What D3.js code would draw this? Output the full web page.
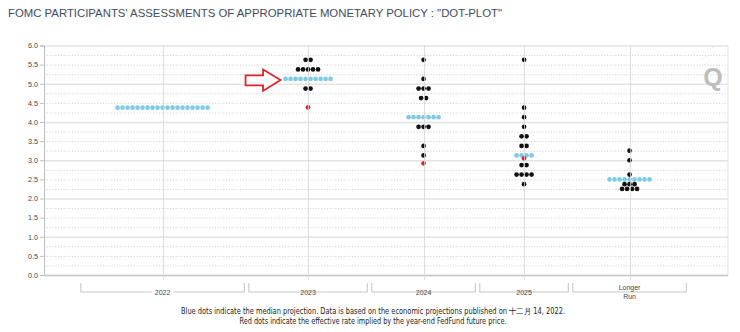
<!DOCTYPE html>
<html><head><meta charset="utf-8">
<script src="https://cdn.jsdelivr.net/npm/d3@7/dist/d3.min.js"></script>
<style>body{margin:0;background:#fff}svg{display:block}</style>
</head><body><svg id="c" width="740" height="332"></svg>
<script>
// ---------- data ----------
const titleText = "FOMC PARTICIPANTS' ASSESSMENTS OF APPROPRIATE MONETARY POLICY : \"DOT-PLOT\"";
const categories = ["2022", "2023", "2024", "2025", "Longer Run"];
const rates2022 = [4.375];
const counts2022 = [19];
const rates2023 = [5.625, 5.375, 5.125, 4.875];
const counts2023 = [2, 5, 10, 2];
const rates2024 = [5.625, 5.125, 4.875, 4.625, 4.125, 3.875, 3.375, 3.125];
const counts2024 = [1, 1, 3, 2, 7, 3, 1, 1];
const rates2025 = [5.625, 4.375, 4.125, 3.875, 3.625, 3.375, 3.125, 2.875, 2.625, 2.375];
const counts2025 = [1, 1, 1, 1, 2, 2, 4, 2, 4, 1];
const ratesLR = [3.25, 3.0, 2.625, 2.5, 2.375, 2.25];
const countsLR = [1, 1, 1, 9, 3, 4];
const medians = [4.375, 5.125, 4.125, 3.125, 2.5];
const futuresRates = [null, 4.38, 2.92, 3.05, null];
const yTickValues = [0, 0.5, 1, 1.5, 2, 2.5, 3, 3.5, 4, 4.5, 5, 5.5, 6];
const footerLines = [
  "Blue dots indicate the median projection. Data is based on the economic projections published on 十二月 14, 2022.",
  "Red dots indicate the effective rate implied by the year-end FedFund future price."
];

const rateSets = [rates2022, rates2023, rates2024, rates2025, ratesLR];
const countSets = [counts2022, counts2023, counts2024, counts2025, countsLR];

// ---------- layout ----------
const plot = {left: 44, right: 728, top: 45.5, bottom: 275};
const svg = d3.select("#c");
const font = "'Liberation Sans', Arial, sans-serif";

const y = d3.scaleLinear().domain([0, 6]).range([plot.bottom, plot.top]);

// category bands in "dot slot" units
const padUnits = 14.7, gapUnits = 0.9;
let cursor = 0;
const bands = categories.map((c, i) => {
  const w = d3.max(countSets[i]) - 1 + padUnits;
  const b = {name: c, start: cursor, end: cursor + w, center: cursor + w / 2};
  cursor += w + gapUnits;
  return b;
});
const totalUnits = cursor - gapUnits;
const x = d3.scaleLinear().domain([0, totalUnits]).range([80.8, 686.3]);

// ---------- title ----------
svg.append("text").attr("x", 8).attr("y", 17)
  .attr("font-family", font).attr("font-size", 11.2).attr("fill", "#3f4b63")
  .attr("textLength", 494).attr("lengthAdjust", "spacingAndGlyphs")
  .text(titleText);

// ---------- grid ----------
const g = svg.append("g");
const quarter = d3.range(0, 25).map(i => i * 0.25);
g.selectAll("line.grid").data(quarter).enter().append("line")
  .attr("x1", plot.left).attr("x2", plot.right)
  .attr("y1", d => y(d) + 0.5).attr("y2", d => y(d) + 0.5)
  .attr("stroke", d => (d % 1 === 0) ? "#e3e3e3" : "#c9c9c9")
  .attr("stroke-width", d => (d % 1 === 0) ? 1.5 : 0.8)
  .attr("stroke-dasharray", d => (d % 1 === 0) ? null : "1.2,1.6");

// right border
g.append("line").attr("x1", plot.right).attr("x2", plot.right)
  .attr("y1", plot.top).attr("y2", plot.bottom).attr("stroke", "#e2e2e2");

// logo
const logo = svg.append("g");
logo.append("text").attr("x", 713).attr("y", 86).attr("text-anchor", "middle")
  .attr("font-family", font).attr("font-weight", "bold").attr("font-size", 25)
  .attr("fill", "#bdbdbd").text("Q");
[[703, 52, 716, 46], [700, 60, 712, 54], [702, 66, 709, 62]].forEach(l =>
  logo.append("line").attr("x1", l[0]).attr("y1", l[1]).attr("x2", l[2]).attr("y2", l[3])
    .attr("stroke", "#bfe6ee").attr("stroke-width", 0.8).attr("stroke-dasharray", "1,1.5"));

// ---------- y axis ----------
const yAxis = d3.axisLeft(y).tickValues(yTickValues).tickFormat(d3.format(".1f"))
  .tickSize(4).tickPadding(2);
const ya = svg.append("g").attr("transform", `translate(${plot.left},0)`).call(yAxis);
ya.select(".domain").attr("stroke", "#bdbdbd");
ya.selectAll(".tick line").attr("stroke", "#bdbdbd");
ya.selectAll("text").attr("font-family", font).attr("font-size", 7.2).attr("fill", "#444");

// x axis base line
svg.append("line").attr("x1", plot.left).attr("x2", plot.right)
  .attr("y1", plot.bottom + 0.5).attr("y2", plot.bottom + 0.5)
  .attr("stroke", "#c8c8c8").attr("stroke-width", 1.5);

// ---------- dots ----------
const dotR = 2.35;
const dots = [];
rateSets.forEach((rates, i) => {
  rates.forEach((r, k) => {
    const n = countSets[i][k];
    for (let j = 0; j < n; j++) {
      dots.push({cat: i, rate: r, slot: bands[i].center + j - (n - 1) / 2,
        median: r === medians[i]});
    }
  });
});
svg.append("g").selectAll("circle").data(dots).enter().append("circle")
  .attr("cx", d => x(d.slot)).attr("cy", d => y(d.rate)).attr("r", dotR)
  .attr("fill", d => d.median ? "#7fcbe6" : "#111");

svg.append("g").selectAll("circle").data(futuresRates.map((v, i) => ({v, i})).filter(d => d.v !== null))
  .enter().append("circle")
  .attr("cx", d => x(bands[d.i].center)).attr("cy", d => y(d.v)).attr("r", dotR)
  .attr("fill", "#e3232b");

// vertical center lines (drawn over dots, faint)
svg.append("g").selectAll("line").data(bands).enter().append("line")
  .attr("x1", d => Math.round(x(d.center)) + 0.5).attr("x2", d => Math.round(x(d.center)) + 0.5)
  .attr("y1", plot.top).attr("y2", plot.bottom + 5)
  .attr("stroke", "#d6d6d6").attr("stroke-width", 0.8);

// ---------- category brackets ----------
const bt = 283, bb = 292;
const br = svg.append("g");
bands.forEach(b => {
  const x0 = x(b.start), x1 = x(b.end);
  br.append("path")
    .attr("d", `M${x0},${bt}V${bb}H${x1}V${bt}`)
    .attr("fill", "none").attr("stroke", "#c4c4c4").attr("stroke-width", 1);
  const lines = b.name.split(" ");
  const cx = x(b.center);
  const lh = 9.5;
  const y0 = bb + 2.5 - (lines.length - 1) * lh / 2;
  const t = br.append("text").attr("x", cx).attr("text-anchor", "middle")
    .attr("font-family", font).attr("font-size", 7).attr("fill", "#444");
  lines.forEach((ln, k) => t.append("tspan").attr("x", cx).attr("y", y0 + k * lh).text(ln));
  const bbx = t.node().getBBox();
  br.insert("rect", "text").attr("x", bbx.x - 3).attr("y", bbx.y).attr("width", bbx.width + 6)
    .attr("height", bbx.height).attr("fill", "#fff");
});
br.selectAll("text").raise();

// ---------- arrow annotation (2023 median) ----------
const arrowTipX = x(bands[1].center - (counts2023[2] - 1) / 2) - 5;
const arrowTipY = y(medians[1]) + 1;
const arrowPts = [[0, 0], [-17.5, -10.5], [-17.5, -4.5], [-35, -4.5], [-35, 5.5], [-17.5, 5.5], [-17.5, 11]];
svg.append("path")
  .attr("d", d3.line()(arrowPts.map(p => [arrowTipX + p[0], arrowTipY + p[1]])) + "Z")
  .attr("fill", "#fff").attr("stroke", "#d8262c").attr("stroke-width", 1.8)
  .attr("stroke-linejoin", "miter");

// ---------- footer ----------
const fw = [384, 267];
footerLines.forEach((t, i) => {
  svg.append("text").attr("x", 373).attr("y", 314 + i * 9.5).attr("text-anchor", "middle")
    .attr("font-family", "'Liberation Sans Narrow', 'DejaVu Sans Condensed', Arial, sans-serif")
    .attr("font-size", 8).attr("fill", "#222")
    .attr("textLength", fw[i]).attr("lengthAdjust", "spacingAndGlyphs")
    .text(t);
});
</script></body></html>
